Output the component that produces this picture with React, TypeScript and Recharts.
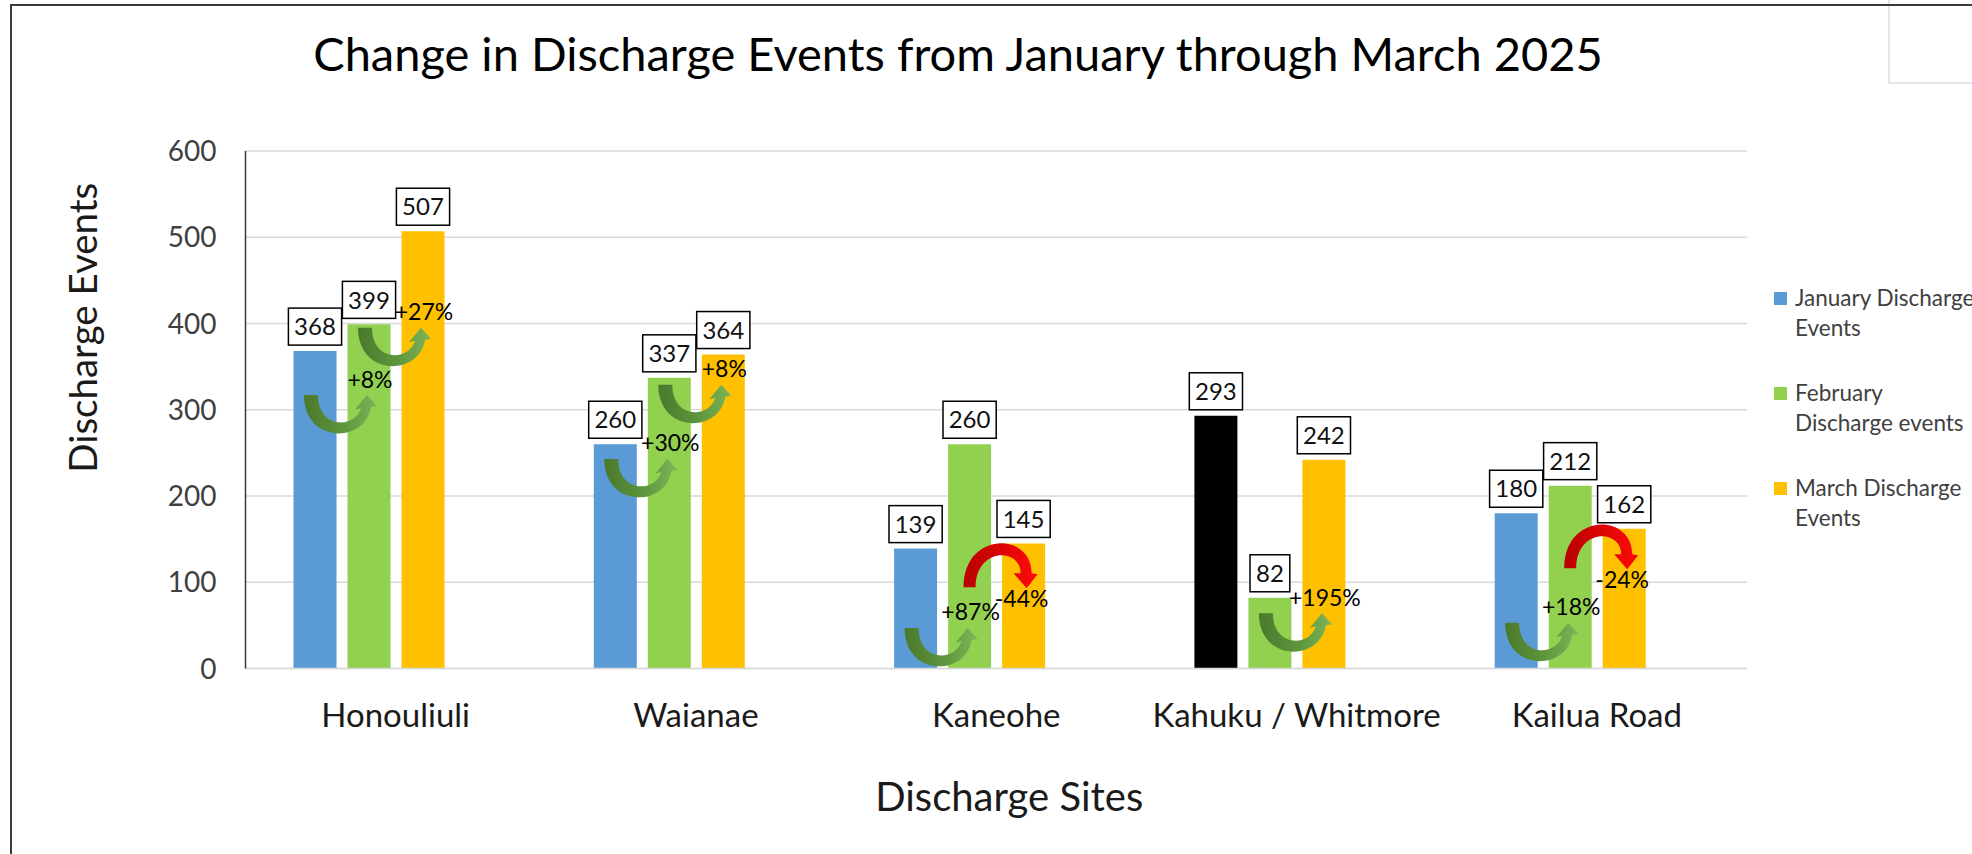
import React from 'react';
import { BarChart, Bar, XAxis, YAxis, CartesianGrid, LabelList, Label, Legend, Cell } from 'recharts';

const sites = ['Honouliuli', 'Waianae', 'Kaneohe', 'Kahuku / Whitmore', 'Kailua Road'];
const januaryEvents = [368, 260, 139, 293, 180];
const februaryEvents = [399, 337, 260, 82, 212];
const marchEvents = [507, 364, 145, 242, 162];
// empty fourth column in the sheet, it still takes a slot in every group
const spareEvents = [null, null, null, null, null];
const yTicks = [0, 100, 200, 300, 400, 500, 600];

const seriesNames = ['January Discharge Events', 'February Discharge events', 'March Discharge Events'];
const legendLines = [['January Discharge', 'Events'], ['February', 'Discharge events'], ['March Discharge', 'Events']];
const seriesColors = ['#5B9BD5', '#92D050', '#FFC000'];

// january bar shown in black for this site, and its jan->feb change is not marked
const flaggedSite = 'Kahuku / Whitmore';
// height (in events) where each change arrow was placed on the chart
const janFebArrowLevel = [317, 243, 47, null, 53];
const febMarArrowLevel = [395, 329, 144, 64, 166];

const data = sites.map((site, i) => ({
  site,
  january: januaryEvents[i],
  february: februaryEvents[i],
  march: marchEvents[i],
  spare: spareEvents[i],
}));

const FONT = 'Lato, "Open Sans", sans-serif';
const BAR_SIZE = 43;
const BAR_GAP = 11;

const box = (props) => {
  const vb = props.viewBox || {};
  return {
    x: props.x ?? vb.x,
    y: props.y ?? vb.y,
    width: props.width ?? vb.width,
    height: props.height ?? vb.height,
  };
};

const ValueBox = ({ cx, top, value }) => {
  const w = String(value).length * 13.4 + 13;
  const h = 37;
  const bottom = top - 6;
  return (
    <g>
      <rect x={cx - w / 2} y={bottom - h} width={w} height={h} fill="#fff" stroke="#000" strokeWidth={1.5} />
      <text x={cx} y={bottom - h / 2 + 8.7} textAnchor="middle" fontFamily={FONT} fontSize={24} fill="#111">
        {value}
      </text>
    </g>
  );
};

const renderValue = (props) => {
  if (props.value == null) return null;
  const { x, y, width } = box(props);
  return <ValueBox cx={x + width / 2} top={y} value={props.value} />;
};

const pctText = (from, to) => {
  const p = Math.round(((to - from) / from) * 100);
  return (p > 0 ? '+' : '') + p + '%';
};

const upArrowPath = (tx, hx, y0) =>
  `M${tx - 7},${y0} L${tx + 7},${y0} ` +
  `C${tx + 7},${y0 + 34} ${hx - 12},${y0 + 34} ${hx - 6},${y0 + 13} ` +
  `L${hx - 12},${y0 + 14.5} L${hx},${y0} L${hx + 10},${y0 + 11} L${hx + 4},${y0 + 12} ` +
  `C${hx - 2},${y0 + 49} ${tx - 7},${y0 + 49} ${tx - 7},${y0} Z`;

const downArrowPath = (fx, hx, y0) =>
  `M${fx - 6},${y0 + 43} C${fx - 6},${y0 - 13} ${hx + 5},${y0 - 13} ${hx + 5},${y0 + 29} ` +
  `L${hx + 11},${y0 + 30} L${hx},${y0 + 44} L${hx - 13},${y0 + 29} L${hx - 6},${y0 + 29} ` +
  `C${hx - 6},${y0 + 3} ${fx + 6},${y0 + 3} ${fx + 6},${y0 + 43} Z`;

const ChangeArrow = ({ fromC, toC, y0, from, to }) => {
  const label = pctText(from, to);
  if (to >= from) {
    return (
      <g>
        <path d={upArrowPath(fromC - 4, toC - 2, y0)} fill="url(#upGrad)" />
        <text x={toC + 1} y={y0 - 7.5} textAnchor="middle" fontFamily={FONT} fontSize={23} fill="#000">
          {label}
        </text>
      </g>
    );
  }
  return (
    <g>
      <path d={downArrowPath(fromC, toC + 3, y0)} fill="url(#downGrad)" />
      <text x={toC - 2} y={y0 + 63} textAnchor="middle" fontFamily={FONT} fontSize={23} fill="#000">
        {label}
      </text>
    </g>
  );
};

// march labels are drawn last, so the change arrows go on top of every bar
const renderMarch = (props) => {
  if (props.value == null) return null;
  const { x, y, width, height } = box(props);
  let i = props.index;
  if (i == null) i = marchEvents.indexOf(props.value);
  const base = y + height;
  const ppu = height / props.value;
  const toY = (v) => base - v * ppu;
  const step = width + BAR_GAP;
  const marC = x + width / 2;
  const febC = marC - step;
  const janC = marC - 2 * step;
  return (
    <g>
      <defs>
        <linearGradient id="upGrad" x1="0" y1="0" x2="1" y2="0">
          <stop offset="0" stopColor="#4A792C" />
          <stop offset="0.55" stopColor="#5E963D" />
          <stop offset="1" stopColor="#7DB55A" />
        </linearGradient>
        <linearGradient id="downGrad" x1="0" y1="0" x2="1" y2="0">
          <stop offset="0" stopColor="#B80000" />
          <stop offset="1" stopColor="#FF0A0A" />
        </linearGradient>
      </defs>
      <ValueBox cx={marC} top={y} value={props.value} />
      {janFebArrowLevel[i] != null && sites[i] !== flaggedSite && (
        <ChangeArrow fromC={janC} toC={febC} y0={toY(janFebArrowLevel[i])} from={januaryEvents[i]} to={februaryEvents[i]} />
      )}
      {febMarArrowLevel[i] != null && (
        <ChangeArrow fromC={febC} toC={marC} y0={toY(febMarArrowLevel[i])} from={februaryEvents[i]} to={marchEvents[i]} />
      )}
    </g>
  );
};

const XTick = ({ x, y, payload }) => (
  <text x={x} y={y + 58.5} textAnchor="middle" fontFamily={FONT} fontSize={33} fill="#1a1a1a">
    {payload.value}
  </text>
);

const YTick = ({ x, y, payload }) => (
  <text x={x - 29} y={y + 10} textAnchor="end" fontFamily={FONT} fontSize={28} fill="#404040">
    {payload.value}
  </text>
);

const renderLegend = () => (
  <div style={{ position: 'relative', fontFamily: FONT, fontSize: 22.5, lineHeight: '30px', color: '#404040' }}>
    {seriesNames.map((name, i) => (
      <div key={name} style={{ position: 'absolute', top: i * 95, left: 0, whiteSpace: 'nowrap' }}>
        <div style={{ position: 'absolute', left: 8, top: 8.5, width: 13, height: 13, background: seriesColors[i] }} />
        <div style={{ position: 'absolute', left: 29, top: 0 }}>
          {legendLines[i].map((line) => (
            <div key={line}>{line}</div>
          ))}
        </div>
      </div>
    ))}
  </div>
);

export default function App() {
  return (
    <div style={{ position: 'absolute', left: 0, top: 0, width: 1972, height: 854, overflow: 'hidden', background: '#fff' }}>
      <div style={{ position: 'absolute', left: 1888, top: 0, width: 200, height: 82, borderLeft: '2px solid #E4E4EC', borderBottom: '2px solid #E4E4EC' }} />
      <div style={{ position: 'absolute', left: 10, top: 4, width: 2000, height: 900, borderTop: '2px solid #3a3a3a', borderLeft: '2px solid #3a3a3a' }} />
      <div
        style={{
          position: 'absolute', left: 0, top: 30, width: 1916, textAlign: 'center',
          fontFamily: FONT, fontSize: 47, lineHeight: '47px', color: '#000', whiteSpace: 'nowrap',
        }}
      >
        Change in Discharge Events from January through March 2025
      </div>
      <div style={{ position: 'absolute', left: 0, top: 0 }}>
        <BarChart
          width={1972}
          height={854}
          data={data}
          margin={{ top: 151, right: 225, bottom: 125.5, left: 45.5 }}
          barSize={BAR_SIZE}
          barGap={BAR_GAP}
        >
          <CartesianGrid vertical={false} stroke="#D9D9D9" strokeWidth={1.5} />
          <XAxis
            dataKey="site"
            interval={0}
            height={60}
            tickSize={0}
            tickMargin={0}
            tickLine={false}
            axisLine={{ stroke: '#D9D9D9', strokeWidth: 1.5 }}
            tick={XTick}
          >
            <Label
              content={({ viewBox }) => (
                <text x={viewBox.x + viewBox.width / 2 + 13} y={viewBox.y + 142.5} textAnchor="middle" fontFamily={FONT} fontSize={40} fill="#1a1a1a">
                  Discharge Sites
                </text>
              )}
            />
          </XAxis>
          <XAxis xAxisId="top" dataKey="site" orientation="top" height={0} tick={false} tickLine={false} axisLine={{ stroke: '#3a3a3a', strokeWidth: 1.5 }} />
          <YAxis
            domain={[0, 600]}
            ticks={yTicks}
            width={200}
            tickSize={0}
            tickMargin={0}
            tickLine={false}
            axisLine={{ stroke: '#3a3a3a', strokeWidth: 1.5 }}
            tick={YTick}
          >
            <Label
              content={({ viewBox }) => {
                const cx = viewBox.x + 51.5;
                const cy = viewBox.y + viewBox.height / 2 - 82;
                return (
                  <text x={cx} y={cy} transform={`rotate(-90 ${cx} ${cy})`} textAnchor="middle" fontFamily={FONT} fontSize={38.5} fill="#1a1a1a">
                    Discharge Events
                  </text>
                );
              }}
            />
          </YAxis>
          <YAxis yAxisId="right" orientation="right" domain={[0, 600]} width={0} tick={false} tickLine={false} axisLine={{ stroke: '#3a3a3a', strokeWidth: 1.5 }} />
          <Legend layout="vertical" align="center" verticalAlign="middle" wrapperStyle={{ left: 1766, top: 283, width: 206 }} content={renderLegend} />
          <Bar dataKey="january" name={seriesNames[0]} fill={seriesColors[0]} isAnimationActive={false}>
            {sites.map((s) => (
              <Cell key={s} fill={s === flaggedSite ? '#000000' : seriesColors[0]} />
            ))}
            <LabelList dataKey="january" content={renderValue} />
          </Bar>
          <Bar dataKey="february" name={seriesNames[1]} fill={seriesColors[1]} isAnimationActive={false}>
            <LabelList dataKey="february" content={renderValue} />
          </Bar>
          <Bar dataKey="march" name={seriesNames[2]} fill={seriesColors[2]} isAnimationActive={false}>
            <LabelList dataKey="march" content={renderMarch} />
          </Bar>
          <Bar dataKey="spare" name="spare" legendType="none" fill="none" isAnimationActive={false} />
        </BarChart>
      </div>
    </div>
  );
}
